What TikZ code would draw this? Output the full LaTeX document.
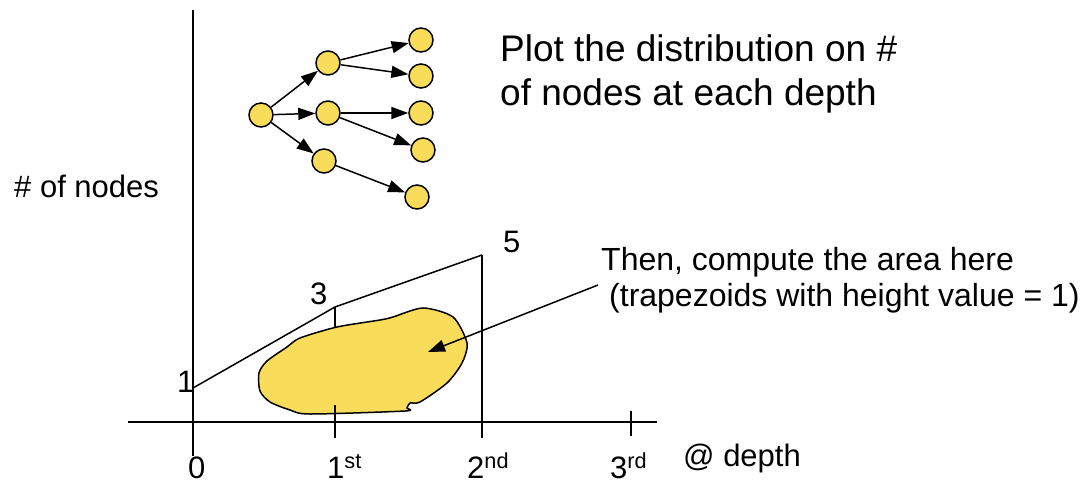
\documentclass[tikz,border=0pt]{standalone}
\usepackage{fontspec}
\setmainfont{Liberation Sans}
\usetikzlibrary{arrows.meta}
\definecolor{nodeyellow}{HTML}{F9DC5A}
\tikzset{
  tnode/.style={circle,draw=black,line width=1.5pt,fill=nodeyellow,minimum size=24pt,inner sep=0pt},
  tedge/.style={line width=1.5pt,-{Triangle[length=17pt,width=12pt]}},
  axisline/.style={line width=1.8pt},
  lbl/.style={anchor=base west,inner sep=0pt,font=\fontsize{31}{36}\selectfont},
  midlbl/.style={anchor=base west,inner sep=0pt,font=\fontsize{32}{36}\selectfont},
  biglbl/.style={anchor=base west,inner sep=0pt,font=\fontsize{37}{44}\selectfont},
}
\begin{document}
\begin{tikzpicture}[x=1pt,y=-1pt]
\useasboundingbox (0,0) rectangle (1082,484);
% axes
\coordinate (ytop) at (193,10);
\coordinate (ybot) at (193,456);
\coordinate (xl) at (128,422);
\coordinate (xr) at (657,422);
\draw[axisline] (ytop) -- (ybot);
\draw[axisline] (xl) -- (xr);
% ticks
\coordinate (t1a) at (335,405); \coordinate (t1b) at (335,438);
\coordinate (t3a) at (631,411); \coordinate (t3b) at (631,436);
\draw[axisline] (t1a) -- (t1b);
\draw[axisline] (t3a) -- (t3b);
% polyline
\coordinate (p1) at (193,388);
\coordinate (p3) at (335,307);
\coordinate (p5) at (482,255);
\coordinate (p5b) at (482,438);
\coordinate (p3b) at (335,329);
\draw[line width=1.5pt] (p1) -- (p3) -- (p5);
\draw[axisline] (p5) -- (p5b);
\draw[line width=1.5pt] (p3) -- (p3b);
% blob
\draw[line width=1.5pt,fill=nodeyellow] plot[smooth cycle,tension=0.45] coordinates {
 (300,338) (337,327) (380,320) (393,317) (423,308) (453,317) (467,343)
 (462,363) (447,383) (420,402) (410,403) (407,408) (405,411)
 (310,414) (290,410) (270,402) (260,391) (259,373) (267,361) (287,347)};
\draw[line width=1.5pt] (335,405) -- (335,414);
% labels on axes
\node[lbl] (l1) at (177,392) {1};
\node[lbl] (l3) at (310,304) {3};
\node[lbl] (l5) at (503,252) {5};
\node[lbl] (x0) at (188,478) {0};
\node[lbl] (x1) at (327,478) {1\textsuperscript{st}};
\node[lbl] (x2) at (467,478) {2\textsuperscript{nd}};
\node[lbl] (x3) at (610,478) {3\textsuperscript{rd}};
\node[lbl] (ylab) at (14,197) {\# of nodes};
\node[lbl] (xlab) at (683,466) {@ depth};
% texts
\node[biglbl] (plot1) at (500,62) {Plot the distribution on \#};
\node[biglbl] (plot2) at (500,106) {of nodes at each depth};
\node[midlbl] (then1) at (601,270) {Then, compute the area here};
\node[midlbl] (then2) at (609,306) {(trapezoids with height value = 1)};
\coordinate (astart) at (598,285);
\coordinate (aend) at (428,352);
\draw[tedge] (astart) -- (aend);
% tree
\node[tnode] (r) at (261,115) {};
\node[tnode] (a) at (328,63) {};
\node[tnode] (b) at (328,113) {};
\node[tnode] (c) at (324,161) {};
\node[tnode] (a1) at (421,40) {};
\node[tnode] (a2) at (421,76) {};
\node[tnode] (b1) at (421,113) {};
\node[tnode] (b2) at (423,150) {};
\node[tnode] (c1) at (417,197) {};
\draw[tedge] (r) -- (a);
\draw[tedge] (r) -- (b);
\draw[tedge] (r) -- (c);
\draw[tedge] (a) -- (a1);
\draw[tedge] (a) -- (a2);
\draw[tedge] (b) -- (b1);
\draw[tedge] (b) -- (b2);
\draw[tedge] (c) -- (c1);
\end{tikzpicture}
\end{document}
